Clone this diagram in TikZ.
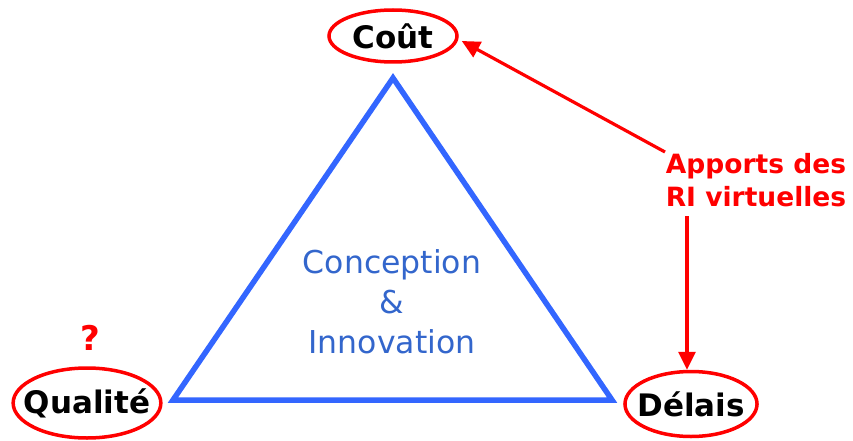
\documentclass[tikz,border=0pt]{standalone}
\usepackage{fontspec}
\setmainfont{DejaVu Sans}
\usepackage{xcolor}
\usetikzlibrary{arrows.meta, shapes.geometric, calc}
\definecolor{tribleu}{RGB}{51,102,255}
\definecolor{txtbleu}{RGB}{51,102,204}
\definecolor{rouge}{RGB}{255,0,0}
\tikzset{
  pole/.style={draw=rouge, ellipse, line width=3.5pt, inner sep=0pt,
               font=\fontsize{31}{36}\selectfont\bfseries},
  note/.style={text=rouge, font=\fontsize{26.5}{33}\selectfont\bfseries, align=center},
  pointer/.style={-{Triangle[length=18pt, width=17pt]}, draw=rouge, line width=3.2pt}
}

\begin{document}
\begin{tikzpicture}[x=1pt, y=-1pt]
  \useasboundingbox (0,0) rectangle (853,441);
  \node[pole, minimum width=128pt, minimum height=52pt] (cout) at (393,36) {Coût};
  \node[pole, inner xsep=-11pt, minimum height=70pt] (qualite) at (87,403) {Qualité};
  \node[pole, inner xsep=-7pt, minimum height=65pt] (delais) at (691,404) {Délais};
  \draw[tribleu, line width=5.5pt] (393,78) -- (612,400) -- (173,400) -- cycle;
  \node[text=txtbleu, font=\fontsize{31.5}{40}\selectfont, align=center] (centre) at (392,302)
    {Conception\\\&\\Innovation};
  \node[note, font=\fontsize{34}{40}\selectfont\bfseries] (question) at (90,338) {?};
  \node[note, inner sep=0pt] (apports) at (756,180) {Apports des\\RI virtuelles};
  \coordinate (depart) at (665,152);
  \coordinate (bas) at (687,216);
  \draw[pointer] (depart) -- ($(cout.east)+(3,5)$);
  \draw[pointer] (bas) -- (bas |- delais.north);
\end{tikzpicture}
\end{document}
